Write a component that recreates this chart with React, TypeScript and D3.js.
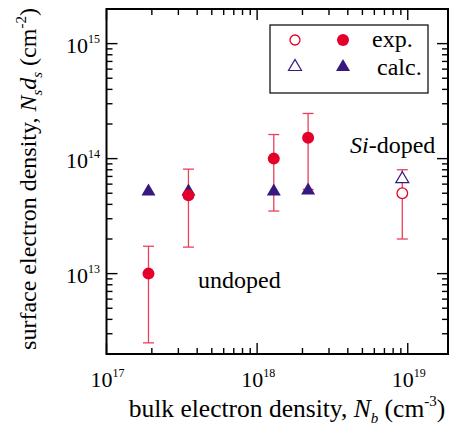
import React from "react";
import * as d3 from "d3";

const W = 449;
const H = 435;

// undoped (filled) series
const undopedNb = [1.9e17, 3.5e17, 1.29e18, 2.18e18];
const undopedExp = [1.0e13, 4.8e13, 1.0e14, 1.52e14];
const undopedErrLow = [2.5e12, 1.7e13, 3.5e13, 5.4e13];
const undopedErrHigh = [1.73e13, 8.1e13, 1.62e14, 2.47e14];
const undopedCalc = [5.4e13, 5.4e13, 5.4e13, 5.5e13];

// Si-doped (open) series
const dopedNb = [9.2e18];
const dopedExp = [5.0e13];
const dopedErrLow = [2.0e13];
const dopedErrHigh = [8.0e13];
const dopedCalc = [6.9e13];

const xMajor = [1e17, 1e18, 1e19];
const xMajorExp = ["17", "18", "19"];
const yMajor = [1e13, 1e14, 1e15];
const yMajorExp = ["13", "14", "15"];

const RED = "#e4002b";
const ERR = "#e8405e";
const BLUE = "#36187e";
const FONT = "'Liberation Serif', 'Times New Roman', serif";

function tri(cx: number, cy: number, w = 14, h = 12) {
  return `M${cx - w / 2},${cy + h / 2}L${cx + w / 2},${cy + h / 2}L${cx},${cy - h / 2}Z`;
}

export default function App() {
  const L = 106.5, R = 448, T = 9, B = 354;
  const x = d3.scaleLog().domain([1e17, 1.85e19]).range([L, R]);
  const y = d3.scaleLog().domain([2e12, 2e15]).range([B, T]);

  const xMinor: number[] = [];
  for (let e = 17; e <= 19; e++) for (let m = 2; m <= 9; m++) {
    const v = m * Math.pow(10, e);
    if (v < 1.85e19) xMinor.push(v);
  }
  const yMinor: number[] = [];
  for (let e = 12; e <= 15; e++) for (let m = 2; m <= 9; m++) {
    const v = m * Math.pow(10, e);
    if (v > 2e12 && v < 2e15) yMinor.push(v);
  }

  const cap = 5.5;
  const errBar = (xv: number, lo: number, hi: number, k: string) => (
    <g key={k} stroke={ERR} strokeWidth={1.3}>
      <line x1={x(xv)} x2={x(xv)} y1={y(lo)} y2={y(hi)} />
      <line x1={x(xv) - cap} x2={x(xv) + cap} y1={y(lo)} y2={y(lo)} />
      <line x1={x(xv) - cap} x2={x(xv) + cap} y1={y(hi)} y2={y(hi)} />
    </g>
  );

  return (
    <svg width={W} height={H} style={{ position: "absolute", left: 0, top: 0, background: "#fff" }} fontFamily={FONT}>
      <rect width={W} height={H} fill="#fff" />
      {/* ticks */}
      <g stroke="#000" strokeWidth={1.4}>
        {xMajor.map((v, i) => (
          <g key={"xM" + i}>
            <line x1={x(v)} x2={x(v)} y1={B} y2={B - 11} />
            <line x1={x(v)} x2={x(v)} y1={T} y2={T + 11} />
          </g>
        ))}
        {xMinor.map((v, i) => (
          <g key={"xm" + i}>
            <line x1={x(v)} x2={x(v)} y1={B} y2={B - 6} />
            <line x1={x(v)} x2={x(v)} y1={T} y2={T + 6} />
          </g>
        ))}
        {yMajor.map((v, i) => (
          <g key={"yM" + i}>
            <line x1={L} x2={L + 11} y1={y(v)} y2={y(v)} />
            <line x1={R} x2={R - 11} y1={y(v)} y2={y(v)} />
          </g>
        ))}
        {yMinor.map((v, i) => (
          <g key={"ym" + i}>
            <line x1={L} x2={L + 6} y1={y(v)} y2={y(v)} />
            <line x1={R} x2={R - 6} y1={y(v)} y2={y(v)} />
          </g>
        ))}
      </g>
      <rect x={L} y={T} width={R - L} height={B - T} fill="none" stroke="#000" strokeWidth={2} />

      {/* tick labels */}
      {xMajor.map((v, i) => (
        <text key={"xl" + i} x={x(v) + 1} y={387} fontSize={22} textAnchor="middle" fill="#000">
          10<tspan fontSize={12} dy={-10}>{xMajorExp[i]}</tspan>
        </text>
      ))}
      {yMajor.map((v, i) => (
        <text key={"yl" + i} x={100} y={y(v) + 9} fontSize={22} textAnchor="end" fill="#000">
          10<tspan fontSize={12} dy={-10}>{yMajorExp[i]}</tspan>
        </text>
      ))}

      {/* axis titles */}
      <text x={287} y={417} fontSize={25.5} textAnchor="middle" fill="#000">
        bulk electron density, <tspan fontStyle="italic">N</tspan>
        <tspan fontSize={15} dy={6} fontStyle="italic">b</tspan>
        <tspan dy={-6}> (cm</tspan>
        <tspan fontSize={15} dy={-11}>-3</tspan>
        <tspan dy={11}>)</tspan>
      </text>
      <text transform="translate(36,179) rotate(-90)" fontSize={24} textAnchor="middle" fill="#000">
        surface electron density, <tspan fontStyle="italic">N</tspan>
        <tspan fontSize={15} dy={6} fontStyle="italic">s</tspan>
        <tspan dy={-6} fontStyle="italic">d</tspan>
        <tspan fontSize={15} dy={6} fontStyle="italic">s</tspan>
        <tspan dy={-6}> (cm</tspan>
        <tspan fontSize={15} dy={-10}>-2</tspan>
        <tspan dy={10}>)</tspan>
      </text>

      {/* error bars */}
      {undopedNb.map((v, i) => errBar(v, undopedErrLow[i], undopedErrHigh[i], "eu" + i))}
      {dopedNb.map((v, i) => errBar(v, dopedErrLow[i], dopedErrHigh[i], "ed" + i))}

      {/* calc triangles */}
      {undopedNb.map((v, i) => (
        <path key={"tu" + i} d={tri(x(v), y(undopedCalc[i]))} fill={BLUE} />
      ))}
      {dopedNb.map((v, i) => (
        <path key={"td" + i} d={tri(x(v), y(dopedCalc[i]), 13, 11)} fill="#fff" stroke={BLUE} strokeWidth={1.2} />
      ))}

      {/* exp circles */}
      {undopedNb.map((v, i) => (
        <circle key={"cu" + i} cx={x(v)} cy={y(undopedExp[i])} r={6} fill={RED} />
      ))}
      {dopedNb.map((v, i) => (
        <circle key={"cd" + i} cx={x(v)} cy={y(dopedExp[i])} r={5.3} fill="#fff" stroke={RED} strokeWidth={1.3} />
      ))}

      {/* annotations */}
      <text x={350} y={153} fontSize={24} fill="#000">
        <tspan fontStyle="italic">Si</tspan>-doped
      </text>
      <text x={198} y={288} fontSize={24} fill="#000">undoped</text>

      {/* legend */}
      <rect x={270} y={25} width={158} height={68} fill="#fff" stroke="#000" strokeWidth={1.2} />
      <circle cx={295} cy={40} r={5} fill="#fff" stroke={RED} strokeWidth={1.3} />
      <circle cx={343} cy={40} r={6} fill={RED} />
      <text x={372} y={47} fontSize={24} fill="#000">exp.</text>
      <path d={tri(295, 65, 13, 11)} fill="#fff" stroke={BLUE} strokeWidth={1.2} />
      <path d={tri(343, 65)} fill={BLUE} />
      <text x={377} y={75} fontSize={24} fill="#000">calc.</text>
    </svg>
  );
}
